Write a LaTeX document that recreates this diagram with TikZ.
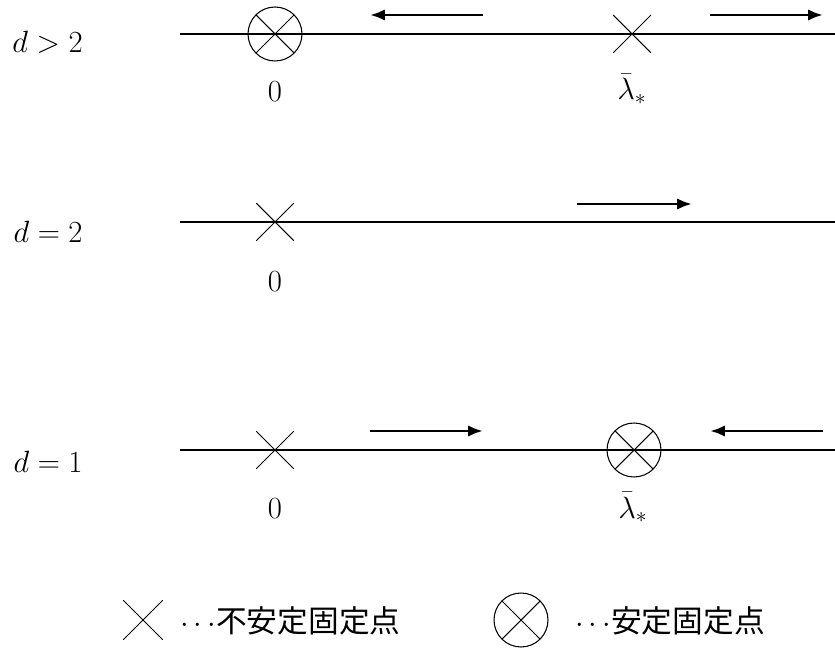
\RequirePackage{fix-cm}
\documentclass[tikz,border=0pt]{standalone}
\usepackage{fontspec}
\newfontfamily\cjk{Noto Sans CJK JP}
\usetikzlibrary{arrows.meta}
\begin{document}
\begin{tikzpicture}[x=0.02cm,y=-0.02cm,
  every node/.style={font=\fontsize{17.5}{21}\selectfont},
  axis/.style={line width=0.6pt},
  flow/.style={line width=1.6pt,-{Latex[length=8.5pt,width=6.5pt]}},
  unstable/.style={rectangle,inner sep=0pt,minimum size=0.76cm,
    path picture={\draw[line width=0.6pt]
      (path picture bounding box.north west) -- (path picture bounding box.south east)
      (path picture bounding box.north east) -- (path picture bounding box.south west);}},
  stable/.style={circle,draw,line width=0.6pt,inner sep=0pt,minimum size=1.08cm,
    path picture={\draw[line width=0.6pt]
      (path picture bounding box.north west) -- (path picture bounding box.south east)
      (path picture bounding box.north east) -- (path picture bounding box.south west);}},
  pointlabel/.style={anchor=base,inner sep=0pt},
  dimlabel/.style={anchor=base east,inner sep=0pt},
  legendtext/.style={anchor=base west,inner sep=0pt}]
\useasboundingbox (0,0) rectangle (835,648);

% ---- d > 2 ----
\coordinate (l1a) at (180,34);
\coordinate (l1b) at (835,34);
\draw[axis] (l1a) -- (l1b);
\node[stable] (s10) at (275,34) {};
\node[unstable] (u1l) at (632,34) {};
\node[pointlabel] (z1) at (275,102) {$0$};
\node[pointlabel] (lam1) at (632,100) {$\bar\lambda_*$};
\node[dimlabel] (d1) at (83,53) {$d>2$};
\coordinate (a1s) at (483,15); \coordinate (a1e) at (370,15);
\coordinate (b1s) at (710,15); \coordinate (b1e) at (823,15);
\draw[flow] (a1s) -- (a1e);
\draw[flow] (b1s) -- (b1e);

% ---- d = 2 ----
\coordinate (l2a) at (180,222);
\coordinate (l2b) at (835,222);
\draw[axis] (l2a) -- (l2b);
\node[unstable] (u20) at (275,222) {};
\node[pointlabel] (z2) at (275,292) {$0$};
\node[dimlabel] (d2) at (83,243) {$d=2$};
\coordinate (a2s) at (577,204); \coordinate (a2e) at (692,204);
\draw[flow] (a2s) -- (a2e);

% ---- d = 1 ----
\coordinate (l3a) at (180,450);
\coordinate (l3b) at (835,450);
\draw[axis] (l3a) -- (l3b);
\node[unstable] (u30) at (275,450) {};
\node[stable] (s3l) at (634,450) {};
\node[pointlabel] (z3) at (275,518) {$0$};
\node[pointlabel] (lam3) at (633,518) {$\bar\lambda_*$};
\node[dimlabel] (d3) at (83,472) {$d=1$};
\coordinate (a3s) at (370,431); \coordinate (a3e) at (483,431);
\coordinate (b3s) at (823,431); \coordinate (b3e) at (710,431);
\draw[flow] (a3s) -- (a3e);
\draw[flow] (b3s) -- (b3e);

% ---- legend ----
\node[unstable,minimum size=0.8cm] (lgu) at (143,620) {};
\node[legendtext] (lgut) at (180,632) {$\cdots${\cjk 不安定固定点}};
\node[stable] (lgs) at (521,620) {};
\node[legendtext] (lgst) at (575,632) {$\cdots${\cjk 安定固定点}};
\end{tikzpicture}
\end{document}
